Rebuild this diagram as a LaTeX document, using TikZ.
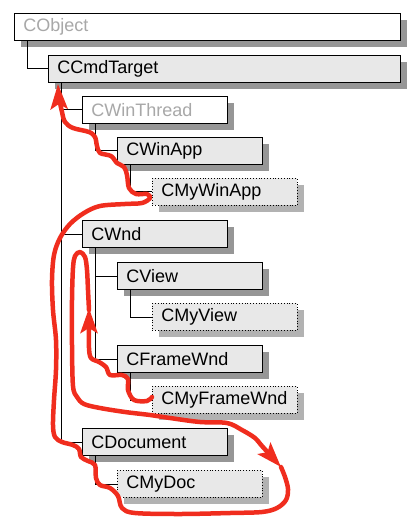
\documentclass[tikz,border=0pt]{standalone}
\usepackage{fontspec}
\setmainfont{Liberation Sans}
\usetikzlibrary{arrows.meta,shadows}
\definecolor{boxfill}{RGB}{232,232,232}
\definecolor{shadedark}{RGB}{150,150,150}
\definecolor{shadelight}{RGB}{178,178,178}
\definecolor{paletext}{RGB}{168,168,168}
\definecolor{pen}{RGB}{240,45,30}

\begin{document}
\begin{tikzpicture}[x=1pt,y=-1pt,
  box/.style={draw=black,line width=.8pt,fill=boxfill,minimum height=27pt,inner xsep=9pt,inner ysep=0pt,text width=127pt,align=left,anchor=north west,font=\fontsize{18}{21}\selectfont},
  mfc/.style={box,general shadow={fill=shadedark,shadow xshift=7pt,shadow yshift=-7pt}},
  base/.style={mfc,fill=white,text=paletext},
  mine/.style={box,dotted,general shadow={fill=shadelight,shadow xshift=7pt,shadow yshift=-7pt}},
  tree/.style={draw=black,line width=.8pt},
  trail/.style={draw=pen,line width=4.5pt,line cap=round,line join=round,-{Stealth[length=25pt,width=17pt,inset=5pt]}}]
\useasboundingbox (0,0) rectangle (418,529);
% class boxes
\node[base,text width=368pt] (obj) at (14,13) {CObject};
\node[mfc,text width=334pt] (cmd) at (48,55) {CCmdTarget};
\node[base] (thread) at (82,96) {CWinThread};
\node[mfc] (app) at (117,137) {CWinApp};
\node[mine] (myapp) at (152,178) {CMyWinApp};
\node[mfc] (wnd) at (82,220) {CWnd};
\node[mfc] (view) at (117,262) {CView};
\node[mine] (myview) at (152,303) {CMyView};
\node[mfc] (frame) at (117,345) {CFrameWnd};
\node[mine] (myframe) at (152,386) {CMyFrameWnd};
\node[mfc] (doc) at (82,428) {CDocument};
\node[mine] (mydoc) at (117,470) {CMyDoc};
% hierarchy lines
\foreach \up/\down in {obj/cmd,cmd/thread,cmd/wnd,cmd/doc,thread/app,app/myapp,wnd/view,wnd/frame,view/myview,frame/myframe,doc/mydoc}
  \draw[tree] ([xshift=13.5pt]\up.south west) |- (\down.west);
% red trail
\draw[trail] plot[smooth,tension=.55] coordinates {(152,397) (147,401) (134,400) (128,390) (128,379) (122,375) (110,375) (106,367) (99,362) (91,358) (89,348) (89,330) (89,308)};
\draw[trail] plot[smooth,tension=.55] coordinates {(89,310) (88,290) (87,270) (85,257) (80,252) (75,256) (73,268) (72,300) (72,345) (73,386) (77,397) (84,404) (100,408) (125,412) (150,415) (170,418) (200,422) (227,423) (242,430) (255,438) (262,446) (281,467)};
\draw[trail] plot[smooth,tension=.55] coordinates {(281,467) (285,477) (288,489) (286,500) (277,508) (262,512) (230,513) (180,514) (135,513) (122,508) (118,496) (110,488) (100,485) (96,478) (95,465) (88,461) (81,457) (79,449) (73,445) (62,442) (55,437) (53,425) (54,400) (56,370) (56,340) (53,310) (52,280) (54,255) (60,238) (70,224) (84,213) (100,206) (125,204) (142,203) (150,198) (147,194) (136,194) (129,188) (127,175) (124,167) (117,163) (111,156) (100,153) (97,146) (95,137) (89,132) (73,128) (65,122) (62,112) (59,97) (58,84)};
\end{tikzpicture}
\end{document}
